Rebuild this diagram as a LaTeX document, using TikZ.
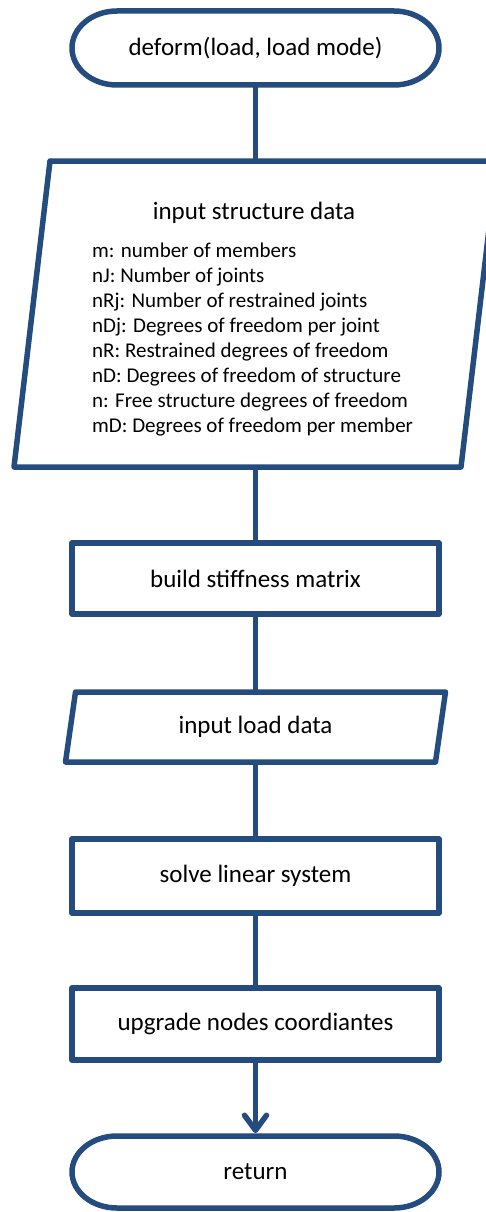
\documentclass[tikz,border=0pt]{standalone}
\usepackage{fontspec}
\setmainfont{Carlito}
\usetikzlibrary{arrows.meta}
\definecolor{flowblue}{RGB}{36,76,126}
\begin{document}
\begin{tikzpicture}[x=1pt,y=-1pt,
  outline/.style={draw=flowblue, line width=5.5pt, line join=round},
  link/.style={draw=flowblue, line width=5.5pt},
  shapebox/.style={inner sep=0pt, outer sep=0pt, minimum width=#1},
  procbox/.style={shapebox=367pt, draw=flowblue, line width=5.5pt, line join=round,
    font=\fontsize{25}{30}\selectfont},
  bigtext/.style={inner sep=0pt, font=\fontsize{25}{30}\selectfont},
  listline/.style={inner sep=0pt, anchor=base west, font=\fontsize{21}{25}\selectfont}
]
\useasboundingbox (0,0) rectangle (486,1212);
\clip (0,0) rectangle (486,1212);

% terminator: start
\node[shapebox=367pt, minimum height=74pt, bigtext] (start) at (255.5,48) {deform(load, load mode)};
\draw[outline] ([xshift=45pt]start.north west) -- ([xshift=-45pt]start.north east)
  arc[start angle=90, end angle=-90, x radius=45pt, y radius=37pt]
  -- ([xshift=45pt]start.south west)
  arc[start angle=270, end angle=90, x radius=45pt, y radius=37pt] -- cycle;

% input structure data (parallelogram)
\node[shapebox=483pt, minimum height=306pt] (sd) at (255.5,314) {};
\draw[outline] ([xshift=36pt]sd.north west) -- (sd.north east)
  -- ([xshift=-36pt]sd.south east) -- (sd.south west) -- cycle;
\node[bigtext, anchor=base] (sdtitle) at (254,219) {input structure data};
\node[listline] (l1) at (92,257) {m: number of members};
\node[listline] (l2) at (92,282) {nJ: Number of joints};
\node[listline] (l3) at (92,307) {nRj: Number of restrained joints};
\node[listline] (l4) at (92,332) {nDj: Degrees of freedom per joint};
\node[listline] (l5) at (92,357) {nR: Restrained degrees of freedom};
\node[listline] (l6) at (92,382) {nD: Degrees of freedom of structure};
\node[listline] (l7) at (92,407) {n: Free structure degrees of freedom};
\node[listline] (l8) at (92,432) {mD: Degrees of freedom per member};

% build stiffness matrix
\node[procbox, minimum height=71pt] (build) at (255.5,578.5) {build stiffness matrix};

% input load data (parallelogram)
\node[shapebox=380pt, minimum height=70pt, bigtext] (load) at (255.5,727) {input load data};
\draw[outline] ([xshift=10pt]load.north west) -- (load.north east)
  -- ([xshift=-10pt]load.south east) -- (load.south west) -- cycle;

% solve linear system
\node[procbox, minimum height=74pt] (solve) at (255.5,876) {solve linear system};

% upgrade nodes coordiantes
\node[procbox, minimum height=72pt] (upgrade) at (255.5,1024) {upgrade nodes coordiantes};

% terminator: return
\node[shapebox=367pt, minimum height=72pt, bigtext] (ret) at (255.5,1172) {return};
\draw[outline] ([xshift=45pt]ret.north west) -- ([xshift=-45pt]ret.north east)
  arc[start angle=90, end angle=-90, x radius=45pt, y radius=36pt]
  -- ([xshift=45pt]ret.south west)
  arc[start angle=270, end angle=90, x radius=45pt, y radius=36pt] -- cycle;

% connectors
\draw[link] (start.south) -- (start.south |- sd.north);
\draw[link] (sd.south) -- (build.north);
\draw[link] (build.south) -- (load.north);
\draw[link] (load.south) -- (solve.north);
\draw[link] (solve.south) -- (upgrade.north);
\draw[link, line cap=round, shorten >=3pt,
  -{Straight Barb[length=15pt, width=22pt, line join=round, line cap=round]}]
  (upgrade.south) -- (ret.north);
\end{tikzpicture}
\end{document}
